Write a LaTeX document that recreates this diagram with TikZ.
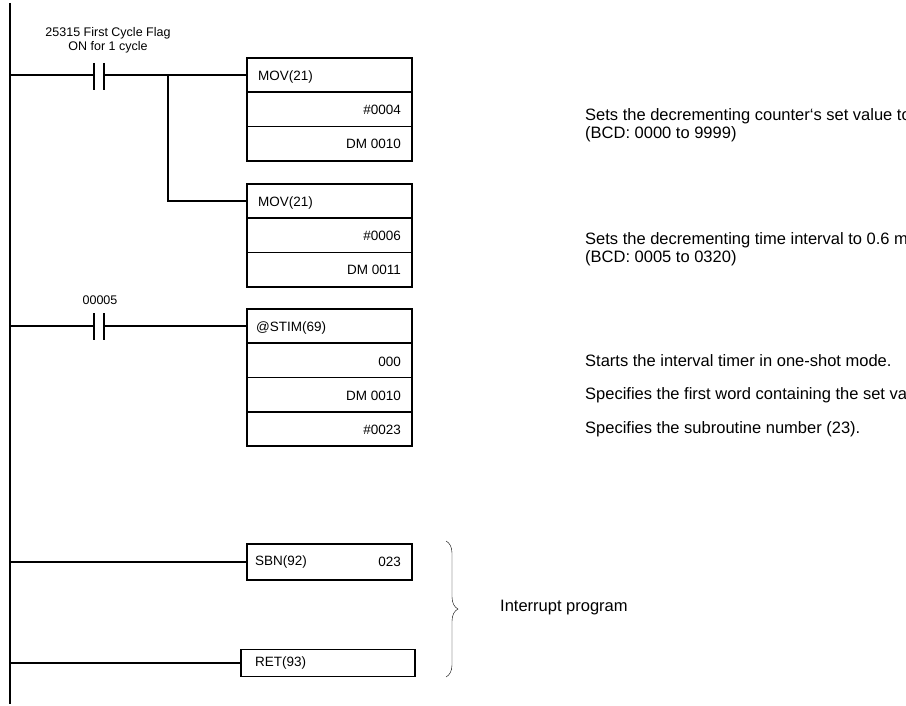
\documentclass[tikz,border=0pt]{standalone}
\usepackage{fontspec}
\setmainfont{Liberation Sans}
\usetikzlibrary{positioning,decorations.pathreplacing}
\tikzset{
  wire/.style={line width=1.6pt},
  box/.style={draw,line width=1.6pt,outer sep=0pt,minimum width=165pt,minimum height=34.3pt,inner sep=0pt},
  lbl/.style={anchor=west,inner sep=0pt,font=\fontsize{13.5}{15}\selectfont},
  val/.style={anchor=east,inner sep=0pt,font=\fontsize{13.5}{15}\selectfont},
  note/.style={anchor=west,inner sep=0pt,font=\fontsize{16.5}{18.5}\selectfont,align=left},
}
\begin{document}
\begin{tikzpicture}[x=1pt,y=-1pt]
\useasboundingbox (0,0) rectangle (906,706);

%Power rail
\coordinate (railT) at (10,3);
\coordinate (railB) at (10,704);
\draw [wire] (railT) -- (railB);

%Rung 1: contact 25315
\draw [wire] (94,63) -- (94,90);
\draw [wire] (104,63) -- (104,90);
\coordinate (c1l) at (94,75);
\coordinate (c1r) at (104,75);
\coordinate (br) at (168,75);
\node [align=center,inner sep=0pt,font=\fontsize{12.5}{14}\selectfont] (c1txt) at (108,40) {25315 First Cycle Flag\\ON for 1 cycle};

%MOV blocks
\node [box] (m1a) at (329.5,75) {};
\node [box,below=0pt of m1a] (m1b) {};
\node [box,below=0pt of m1b] (m1c) {};
\node [box] (m2a) at (329.5,201) {};
\node [box,below=0pt of m2a] (m2b) {};
\node [box,below=0pt of m2b] (m2c) {};
\node [lbl] at (258,77) {MOV(21)};
\node [val] at (401,110) {\#0004};
\node [val] at (401,144) {DM 0010};
\node [lbl] at (258,203) {MOV(21)};
\node [val] at (401,236) {\#0006};
\node [val] at (401,270) {DM 0011};
\draw [wire] (railT |- c1l) -- (c1l);
\draw [wire] (c1r) -- (m1a.west);
\draw [wire] (br) |- (m2a.west);

%Rung 2: contact 00005
\draw [wire] (94,313) -- (94,340);
\draw [wire] (104,313) -- (104,340);
\coordinate (c2l) at (94,326);
\coordinate (c2r) at (104,326);
\node [inner sep=0pt,font=\fontsize{12.5}{14}\selectfont] (c2txt) at (100,300) {00005};
\node [box] (s1) at (329.5,326) {};
\node [box,below=0pt of s1] (s2) {};
\node [box,below=0pt of s2] (s3) {};
\node [box,below=0pt of s3] (s4) {};
\node [lbl] at (256,328) {@STIM(69)};
\node [val] at (401,362) {000};
\node [val] at (401,396) {DM 0010};
\node [val] at (401,430) {\#0023};
\draw [wire] (railT |- c2l) -- (c2l);
\draw [wire] (c2r) -- (s1.west);

%Interrupt program
\node [box,minimum height=36pt] (sbn) at (329.5,562) {};
\node [lbl] at (255,562) {SBN(92)};
\node [val] at (401,562) {023};
\node [box,minimum width=174pt,minimum height=27pt] (ret) at (328,663) {};
\node [lbl] at (255,663) {RET(93)};
\draw [wire] (railT |- sbn) -- (sbn.west);
\draw [wire] (railT |- ret) -- (ret.west);
\draw [decorate,decoration={brace,amplitude=12pt}] (446,541) -- (446,677);

% Notes
\node [note] at (585,125) {Sets the decrementing counter‘s set value to 4.\\(BCD: 0000 to 9999)};
\node [note] at (585,249) {Sets the decrementing time interval to 0.6 ms.\\(BCD: 0005 to 0320)};
\node [note] at (585,361) {Starts the interval timer in one-shot mode.};
\node [note] at (585,395) {Specifies the first word containing the set value.};
\node [note] at (585,429) {Specifies the subroutine number (23).};
\node [note] at (500,608) {Interrupt program};
\end{tikzpicture}
\end{document}
